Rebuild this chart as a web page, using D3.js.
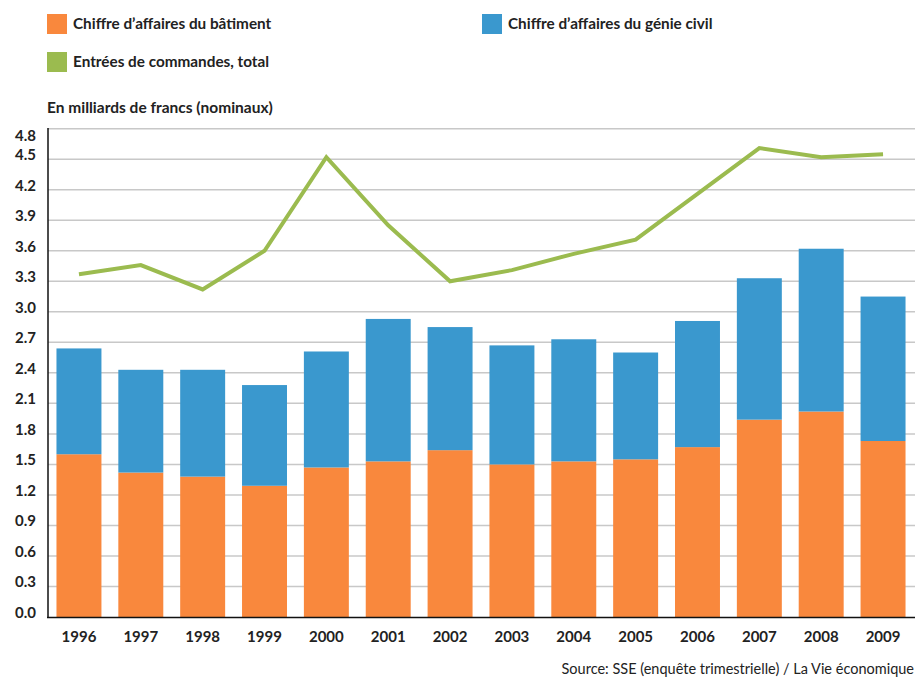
<!DOCTYPE html>
<html><head><meta charset="utf-8">
<script src="https://cdn.jsdelivr.net/npm/d3@7"></script>
<style>body{margin:0;background:#fff}svg{display:block}text{font-family:Lato,"Open Sans",sans-serif;fill:#222}</style>
</head><body><svg id="c" width="917" height="680"></svg>
<script>
const years = ["1996","1997","1998","1999","2000","2001","2002","2003","2004","2005","2006","2007","2008","2009"];
const batiment = [1.60,1.42,1.38,1.29,1.47,1.53,1.64,1.50,1.53,1.55,1.67,1.94,2.02,1.73];
const totalCA = [2.64,2.43,2.43,2.28,2.61,2.93,2.85,2.67,2.73,2.60,2.91,3.33,3.62,3.15];
const genieCivil = totalCA.map((t,i)=>+(t-batiment[i]).toFixed(2));
const commandes = [3.37,3.46,3.22,3.60,4.52,3.85,3.30,3.41,3.57,3.71,4.16,4.61,4.52,4.55];
const yTicks = [0.0,0.3,0.6,0.9,1.2,1.5,1.8,2.1,2.4,2.7,3.0,3.3,3.6,3.9,4.2,4.5,4.8];
const legendLabels = ["Chiffre d\u2019affaires du bâtiment","Chiffre d\u2019affaires du génie civil","Entrées de commandes, total"];
const colors = {bat:"#F9883D", gc:"#3A98CE", cmd:"#9BBB4F"};

const svg = d3.select("#c");
const x = d3.scaleBand().domain(years).range([48,914]).paddingInner(0.273).paddingOuter(0.137);
const y = d3.scaleLinear().domain([0,4.8]).range([617,128.7]);

// gridlines
svg.append("g").selectAll("line").data(yTicks.filter(d=>d>0)).join("line")
  .attr("x1",48).attr("x2",915).attr("y1",d=>y(d)).attr("y2",d=>y(d))
  .attr("stroke","#c8c8c8").attr("stroke-width",1.5);

// bars
const stack = years.map((yr,i)=>({yr, b:batiment[i], g:genieCivil[i]}));
svg.append("g").selectAll("rect").data(stack).join("rect")
  .attr("x",d=>x(d.yr)).attr("width",x.bandwidth())
  .attr("y",d=>y(d.b)).attr("height",d=>y(0)-y(d.b)).attr("fill",colors.bat);
svg.append("g").selectAll("rect").data(stack).join("rect")
  .attr("x",d=>x(d.yr)).attr("width",x.bandwidth())
  .attr("y",d=>y(d.b+d.g)).attr("height",d=>y(d.b)-y(d.b+d.g)).attr("fill",colors.gc);

// line
const line = d3.line().x((d,i)=>x(years[i])+x.bandwidth()/2).y(d=>y(d));
svg.append("path").datum(commandes).attr("d",line).attr("fill","none")
  .attr("stroke",colors.cmd).attr("stroke-width",4).attr("stroke-linejoin","miter");

// axes
const yAxis = d3.axisLeft(y).tickValues(yTicks).tickFormat(d3.format(".1f")).tickSize(0).tickPadding(12);
const ga = svg.append("g").attr("transform","translate(48,0)").call(yAxis);
ga.select(".domain").remove();
ga.selectAll("text").attr("font-size",15).attr("font-weight","bold").attr("fill","#222")
  .style("font-family","Lato, sans-serif")
  .attr("dy",d=>d===4.8?"0.8em":"0.02em");
svg.append("line").attr("x1",48).attr("x2",48).attr("y1",128).attr("y2",618).attr("stroke","#111").attr("stroke-width",1.5);
svg.append("line").attr("x1",47).attr("x2",915).attr("y1",617.5).attr("y2",617.5).attr("stroke","#111").attr("stroke-width",1.5);

const xAxis = d3.axisBottom(x).tickSize(0).tickPadding(14);
const gx = svg.append("g").attr("transform","translate(0,617)").call(xAxis);
gx.select(".domain").remove();
gx.selectAll("text").attr("font-size",15).attr("font-weight","bold").attr("fill","#222").style("font-family","Lato, sans-serif");

// legend
const leg = [{c:colors.bat,t:legendLabels[0],x:47,y:14},{c:colors.gc,t:legendLabels[1],x:482,y:14},{c:colors.cmd,t:legendLabels[2],x:47,y:52}];
const lg = svg.append("g").selectAll("g").data(leg).join("g").attr("transform",d=>`translate(${d.x},${d.y})`);
lg.append("rect").attr("width",20).attr("height",20).attr("fill",d=>d.c);
lg.append("text").attr("x",26).attr("y",15).attr("font-size",15.3).attr("font-weight","bold").text(d=>d.t);

svg.append("text").attr("x",47).attr("y",113).attr("font-size",15.5).attr("font-weight","bold").text("En milliards de francs (nominaux)");
svg.append("text").attr("x",914).attr("y",674).attr("text-anchor","end").attr("font-size",14.5).text("Source: SSE (enquête trimestrielle) / La Vie économique");
</script></body></html>
